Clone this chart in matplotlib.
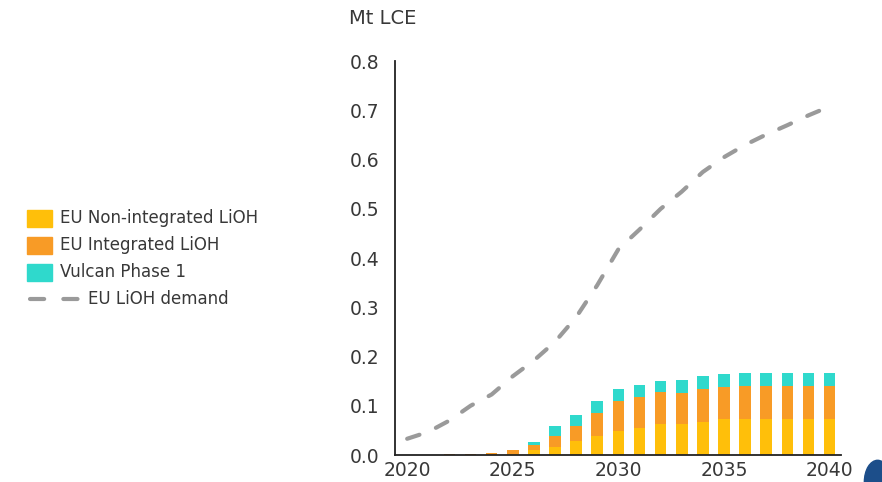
import numpy as np
import matplotlib.pyplot as plt
from matplotlib.patches import Rectangle, Ellipse
from matplotlib.lines import Line2D

plt.rcParams['font.family'] = ['DejaVu Sans']

# Data (Mt LCE)
years = np.arange(2020, 2041)
non_integrated = [0, 0, 0.001, 0.001, 0.001, 0.003, 0.010, 0.016, 0.028, 0.039, 0.049,
                  0.055, 0.063, 0.064, 0.068, 0.073, 0.073, 0.073, 0.073, 0.073, 0.073]
integrated = [0, 0, 0.001, 0.002, 0.004, 0.007, 0.011, 0.022, 0.031, 0.047, 0.060,
              0.062, 0.064, 0.062, 0.066, 0.066, 0.068, 0.068, 0.068, 0.068, 0.068]
vulcan = [0, 0, 0, 0, 0, 0, 0.006, 0.020, 0.023, 0.024, 0.025,
          0.025, 0.024, 0.026, 0.026, 0.025, 0.025, 0.025, 0.025, 0.025, 0.025]
demand = [0.033, 0.047, 0.070, 0.100, 0.123, 0.160, 0.192, 0.230, 0.280, 0.345, 0.418,
          0.458, 0.500, 0.535, 0.575, 0.605, 0.630, 0.651, 0.670, 0.690, 0.708]

labels = ['EU Non-integrated LiOH', 'EU Integrated LiOH', 'Vulcan Phase 1', 'EU LiOH demand']
c_yellow = '#FFBF0A'
c_orange = '#F89B26'
c_teal = '#2FD9CC'
c_grey = '#9A9A9A'
txt = '#383838'

W, H = 882, 482
fig = plt.figure(figsize=(W / 100, H / 100), dpi=100)
ax = fig.add_axes([0.448, 0.056, 0.505, 0.817])

w = 0.55
ni = np.array(non_integrated)
ig = np.array(integrated)
ax.bar(years, ni, width=w, color=c_yellow)
ax.bar(years, ig, width=w, bottom=ni, color=c_orange)
ax.bar(years, vulcan, width=w, bottom=ni + ig, color=c_teal)

ax.plot(years, demand, color=c_grey, lw=3, dashes=(3.1, 4.3),
        dash_capstyle='round')

ax.set_xlim(2019.43, 2040.52)
ax.set_ylim(0, 0.8)
ax.set_xticks([2020, 2025, 2030, 2035, 2040])
ax.set_yticks(np.arange(0, 0.81, 0.1))
ax.set_yticklabels([f'{v:.1f}' for v in np.arange(0, 0.81, 0.1)])
ax.tick_params(length=0, labelsize=13.5, colors=txt)
ax.tick_params(axis='y', pad=11)
ax.tick_params(axis='x', pad=4)
for s in ['top', 'right']:
    ax.spines[s].set_visible(False)
for s in ['left', 'bottom']:
    ax.spines[s].set_color('#222222')
    ax.spines[s].set_linewidth(1.3)

fig.text(0.396, 0.962, 'Mt LCE', fontsize=14, color=txt, ha='left', va='center')

# legend built by hand (the dashed entry sits further right than the boxes)
def fx(px):
    return px / W

def fy(py):
    return 1 - py / H

rows = [218, 245, 272, 299]
for col, lab, ry in zip([c_yellow, c_orange, c_teal], labels[:3], rows[:3]):
    fig.add_artist(Rectangle((fx(27), fy(ry + 8.5)), 25 / W, 17 / H,
                             transform=fig.transFigure, color=col))
    fig.text(fx(60), fy(ry), lab, fontsize=12, color=txt, va='center', ha='left')
fig.add_artist(Line2D([fx(30), fx(80)], [fy(rows[3]), fy(rows[3])],
                      transform=fig.transFigure, color=c_grey, lw=3,
                      dashes=(3.4, 4.6), dash_capstyle='round'))
fig.text(fx(88), fy(rows[3]), labels[3], fontsize=12, color=txt, va='center', ha='left')

# logo fragment in the corner
fig.add_artist(Ellipse((0.995, 0.0), 0.03, 0.09, transform=fig.transFigure,
                       color='#1C4E8A', zorder=5))

fig.savefig('out.png', dpi=100)
